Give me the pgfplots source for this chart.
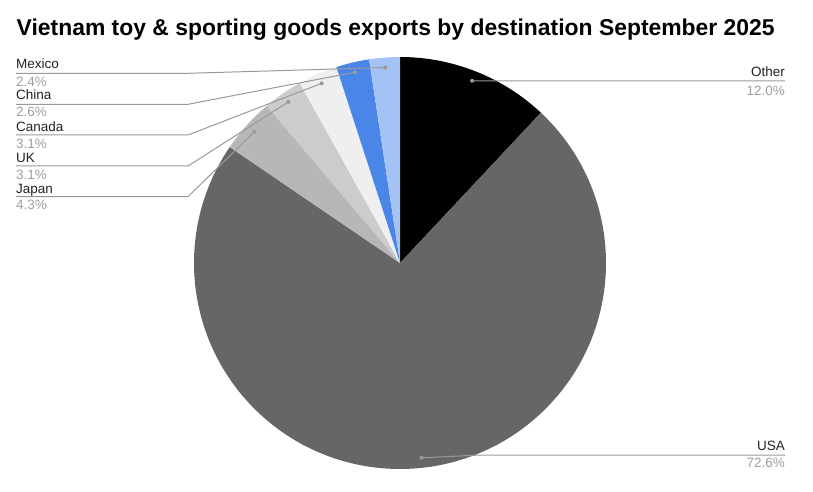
\documentclass[border=0pt]{standalone}
\usepackage{pgfplots}
\usepackage{pgfplotstable}
\pgfplotsset{compat=1.18}
\usepackage{fontspec}
\setmainfont{Liberation Sans}
\definecolor{slice0}{HTML}{000000}
\definecolor{slice1}{HTML}{666666}
\definecolor{slice2}{HTML}{B7B7B7}
\definecolor{slice3}{HTML}{CCCCCC}
\definecolor{slice4}{HTML}{EFEFEF}
\definecolor{slice5}{HTML}{4A86E8}
\definecolor{slice6}{HTML}{A4C2F4}
\definecolor{leadc}{HTML}{999999}
\definecolor{labc}{HTML}{222222}
\definecolor{pctc}{HTML}{9E9E9E}
\pgfplotstableread{
name value ex ey endx
Other 12.0 480 81 785
USA 72.6 480 455 785
Japan 4.3 188 196.7 16
UK 3.1 188 166 16
Canada 3.1 188 135 16
China 2.6 188 104.3 16
Mexico 2.4 188 73.3 16
}\piedata
\begin{document}
\begin{tikzpicture}
\begin{axis}[width=813pt,height=486pt,scale only axis,
  xmin=0,xmax=813,ymin=0,ymax=486,y dir=reverse,hide axis,clip=false]
\path (axis cs:0,0) rectangle (axis cs:813,486);
\pgfmathsetmacro{\tot}{100.1}
\def\cur{90}
\pgfplotsforeachungrouped \i in {0,...,6}{%
  \pgfplotstablegetelem{\i}{value}\of\piedata \let\v=\pgfplotsretval
  \pgfmathsetmacro{\ang}{\v/\tot*360}%
  \pgfmathsetmacro{\nxt}{\cur-\ang}%
  \edef\temp{\noexpand\fill[slice\i] (axis cs:400,263) -- ++(\cur:206pt) arc[start angle=\cur, end angle=\nxt, radius=206pt] -- cycle;}%
  \temp
  \let\cur=\nxt
}
\def\cur{90}
\pgfplotsforeachungrouped \i in {0,...,6}{%
  \pgfplotstablegetelem{\i}{value}\of\piedata \let\v=\pgfplotsretval
  \pgfplotstablegetelem{\i}{ex}\of\piedata \let\ex=\pgfplotsretval
  \pgfplotstablegetelem{\i}{ey}\of\piedata \let\ey=\pgfplotsretval
  \pgfplotstablegetelem{\i}{endx}\of\piedata \let\endx=\pgfplotsretval
  \pgfmathsetmacro{\ang}{\v/\tot*360}%
  \pgfmathsetmacro{\nxt}{\cur-\ang}%
  \pgfmathsetmacro{\midang}{\cur-\ang/2}%
  \edef\temp{\noexpand\draw[leadc, line width=1pt] (axis cs:400,263) ++(\midang:196pt) -- (axis cs:\ex,\ey) -- (axis cs:\endx,\ey);
    \noexpand\fill[leadc] (axis cs:400,263) ++(\midang:196pt) circle[radius=2pt];}%
  \temp
  \let\cur=\nxt
}
\node[anchor=base west, font=\bfseries\fontsize{22.9}{26}\selectfont, inner sep=0pt] at (axis cs:16.5,36) {Vietnam toy \& sporting goods exports by destination September 2025};
\tikzset{lab/.style={inner sep=0pt, font=\fontsize{13.5}{16}\selectfont, text=labc},
         pct/.style={inner sep=0pt, font=\fontsize{13.5}{16}\selectfont, text=pctc}}
\node[lab, anchor=base west] at (axis cs:16,69) {Mexico};
\node[pct, anchor=base west] at (axis cs:16,86.7) {2.4\%};
\node[lab, anchor=base west] at (axis cs:16,100) {China};
\node[pct, anchor=base west] at (axis cs:16,116.7) {2.6\%};
\node[lab, anchor=base west] at (axis cs:16,131.7) {Canada};
\node[pct, anchor=base west] at (axis cs:16,148.3) {3.1\%};
\node[lab, anchor=base west] at (axis cs:16,162.3) {UK};
\node[pct, anchor=base west] at (axis cs:16,179.3) {3.1\%};
\node[lab, anchor=base west] at (axis cs:16,193.3) {Japan};
\node[pct, anchor=base west] at (axis cs:16,210) {4.3\%};
\node[lab, anchor=base east] at (axis cs:785,76.7) {Other};
\node[pct, anchor=base east] at (axis cs:785,95.7) {12.0\%};
\node[lab, anchor=base east] at (axis cs:785,450) {USA};
\node[pct, anchor=base east] at (axis cs:785,467.3) {72.6\%};
\end{axis}
\end{tikzpicture}
\end{document}
